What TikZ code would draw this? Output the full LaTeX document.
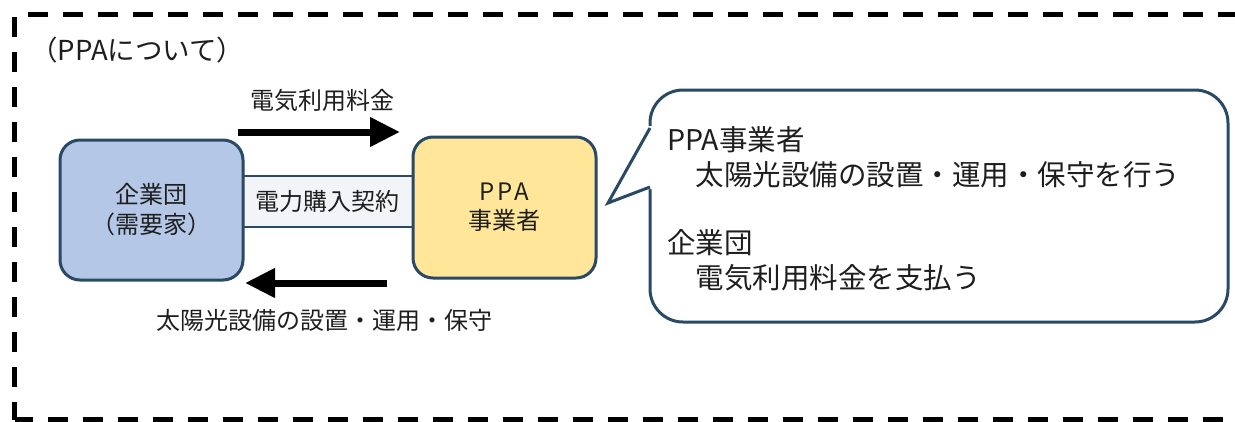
\documentclass[tikz,border=0pt]{standalone}
\usepackage{fontspec}
\newfontfamily\jp{Noto Sans CJK JP}
\usetikzlibrary{arrows.meta}
\definecolor{edge}{HTML}{2A4965}
\definecolor{bluefill}{HTML}{B4C7E7}
\definecolor{yellowfill}{HTML}{FFE699}
\definecolor{bandfill}{HTML}{F2F4F7}
\definecolor{txt}{HTML}{1E1E1E}
\begin{document}
\begin{tikzpicture}[x=1pt,y=-1pt,
  every node/.style={font=\jp\fontsize{24}{30}\selectfont, text=txt, inner sep=0pt},
  party/.style={draw=edge, line width=3pt, rounded corners=20pt, minimum width=183pt, minimum height=140pt, align=center},
  frame/.style={line width=4.5pt, draw=black, dash pattern=on 20pt off 15pt},
  bandline/.style={draw=edge, line width=2.5pt},
  bigarrow/.style={line width=7pt, draw=black, -{Triangle[length=30pt,width=28pt]}},
  bubble/.style={draw=edge, line width=3pt, fill=white, rounded corners=33pt, minimum width=578pt, minimum height=232pt}
]
\useasboundingbox (0,0) rectangle (1235,421);
% dashed frame
\draw[frame, dash phase=2pt] (14.7,419.5) -- (14.7,14.7) -- (1250,14.7);
\draw[frame, dash phase=2pt] (14.7,419.5) -- (1250,419.5);
% title
\node[anchor=west, font=\jp\fontsize{27.5}{30}\selectfont] (title) at (30,50) {（PPAについて）};
% contract band
\node[fill=bandfill, minimum width=172pt, minimum height=51pt] (band) at (327.5,201.5) {電力購入契約};
\draw[bandline] (band.north west) -- (band.north east);
\draw[bandline] (band.south west) -- (band.south east);
% parties
\node[party, fill=bluefill] (client) at (151.5,210) {企業団\\（需要家）};
\node[party, fill=yellowfill, minimum height=141pt, font=\jp\fontsize{24}{29}\selectfont] (ppa) at (504.5,207.5) {P\kern2.5pt P\kern2.5pt A\\事業者};
% arrows
\coordinate (a1s) at (238,132);
\coordinate (a1e) at (400,132);
\draw[bigarrow] (a1s) -- (a1e);
\node (lbl1) at (322,100) {電気利用料金};
\coordinate (a2s) at (387,283);
\coordinate (a2e) at (245,283);
\draw[bigarrow] (a2s) -- (a2e);
\node (lbl2) at (324.5,320) {太陽光設備の設置・運用・保守};
% callout
\node[bubble] (note) at (939,206) {};
\coordinate (tip) at (608,203);
\coordinate (pu) at (650,128);
\coordinate (pl) at (650,187);
\fill[white] (653.5,126) -- (646,126) -- (tip) -- (646,189) -- (653.5,189) -- cycle;
\draw[draw=edge, line width=3pt, line join=miter] (pu) -- (tip) -- (pl);
\node[anchor=west, align=left, font=\jp\fontsize{28.5}{34.5}\selectfont] (notetext) at (667,209) {PPA事業者\\　太陽光設備の設置・運用・保守を行う\\[34pt]企業団\\　電気利用料金を支払う};
\end{tikzpicture}
\end{document}
